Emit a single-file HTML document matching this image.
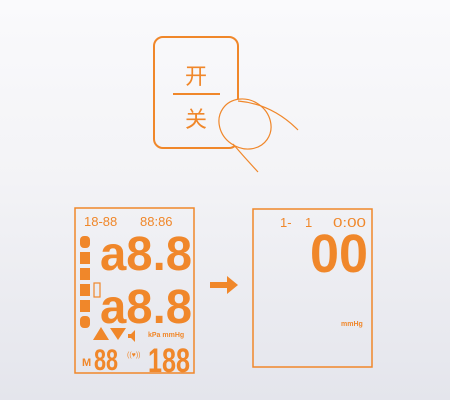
<!DOCTYPE html>
<html><head><meta charset="utf-8"><style>
html,body{margin:0;padding:0;width:450px;height:400px;overflow:hidden}
svg{display:block}
text{font-family:"Liberation Sans","Noto Sans CJK SC",sans-serif;fill:#f0872a}
</style></head><body>
<svg width="450" height="400" viewBox="0 0 450 400">
<defs><linearGradient id="bg" x1="0" y1="0" x2="0" y2="1">
<stop offset="0" stop-color="#fafafc"/><stop offset="0.45" stop-color="#f3f3f6"/><stop offset="1" stop-color="#e4e5ec"/></linearGradient></defs>
<rect width="450" height="400" fill="url(#bg)"/>
<g>
<rect x="154" y="37" width="84" height="111" rx="9" fill="none" stroke="#f0872a" stroke-width="2"/>
<text x="196" y="84" font-size="22" text-anchor="middle">开</text>
<line x1="173" y1="94" x2="220" y2="94" stroke="#f0872a" stroke-width="2"/>
<text x="196" y="127" font-size="22" text-anchor="middle">关</text>
</g>
<g fill="none" stroke="#f0872a" stroke-width="1.2">
<ellipse cx="245" cy="124" rx="27" ry="24" transform="rotate(35 245 124)" fill="#f5f5f8"/>
<path d="M238 101 Q272 104 298 130"/>
<path d="M233 144 Q245 158 258 172"/>
</g>
<g>
<rect x="75" y="208" width="119" height="165" fill="none" stroke="#f0872a" stroke-width="1.5"/>
<text x="84" y="226" font-size="13">18-88</text>
<text x="140" y="226" font-size="13">88:86</text>
<g fill="#f0872a">
<rect x="80" y="236" width="10" height="12" rx="4"/>
<rect x="80" y="252" width="10" height="12"/>
<rect x="80" y="268" width="10" height="12"/>
<rect x="80" y="284" width="10" height="12"/>
<rect x="80" y="300" width="10" height="12"/>
<rect x="80" y="316" width="10" height="12" rx="4"/>
</g>
<rect x="94" y="283" width="6" height="14" fill="none" stroke="#f0872a" stroke-width="1.2"/>
<text x="100" y="270" font-size="48" font-weight="bold" textLength="92" lengthAdjust="spacingAndGlyphs">a8.8</text>
<text x="100" y="323" font-size="48" font-weight="bold" textLength="92" lengthAdjust="spacingAndGlyphs">a8.8</text>
<path d="M93 340 L101 327 L109 340Z M110 328 L126 328 L118 340Z" fill="#f0872a"/>
<path d="M128 334 h3 l4 -4 v12 l-4 -4 h-3z" fill="#f0872a"/>
<text x="148" y="337" font-size="7" font-weight="bold">kPa mmHg</text>
<text x="82" y="366" font-size="11" font-weight="bold">M</text>
<text x="94" y="370" font-size="30" font-weight="bold" textLength="24" lengthAdjust="spacingAndGlyphs">88</text>
<text x="127" y="357" font-size="7">((♥))</text>
<text x="148" y="372" font-size="34" font-weight="bold" textLength="42" lengthAdjust="spacingAndGlyphs">188</text>
</g>
<path d="M210 282 h17 v-6 l11 9 l-11 9 v-6 h-17z" fill="#f0872a"/>
<g>
<rect x="253" y="209" width="119" height="158" fill="none" stroke="#f0872a" stroke-width="1.5"/>
<text x="280" y="227" font-size="13">1-</text>
<text x="305" y="227" font-size="13">1</text>
<text x="333" y="227" font-size="13" textLength="33" lengthAdjust="spacingAndGlyphs">0:00</text>
<text x="310" y="272" font-size="54" font-weight="bold" textLength="58" lengthAdjust="spacingAndGlyphs">00</text>
<text x="341" y="326" font-size="7" font-weight="bold">mmHg</text>
</g>
</svg>
</body></html>
